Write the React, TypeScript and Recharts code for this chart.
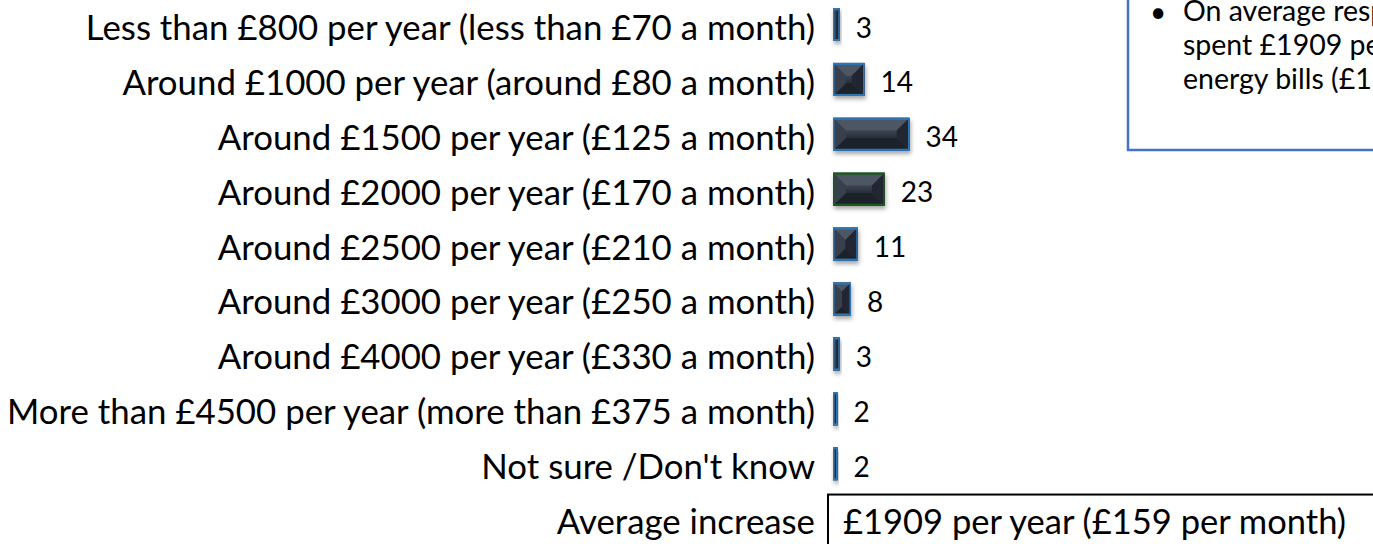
import React from 'react';
import { BarChart, Bar, XAxis, YAxis, LabelList } from 'recharts';

const categories = [
  'Less than £800 per year (less than £70 a month)',
  'Around £1000 per year (around £80 a month)',
  'Around £1500 per year (£125 a month)',
  'Around £2000 per year (£170 a month)',
  'Around £2500 per year (£210 a month)',
  'Around £3000 per year (£250 a month)',
  'Around £4000 per year (£330 a month)',
  'More than £4500 per year (more than £375 a month)',
  "Not sure /Don't know",
  'Average increase',
];
const values: (number | null)[] = [3, 14, 34, 23, 11, 8, 3, 2, 2, null];
const averageText = '£1909 per year (£159 per month)';
const noteLines = [
  'On average respondents',
  'spent £1909 per year on',
  'energy bills (£159 per month)',
];

const edgeColors = ['#2e75b6', '#2e75b6', '#2e75b6', '#1f5a1f', '#2e75b6', '#2e75b6', '#2e75b6', '#2e75b6', '#2e75b6'];

const data = categories.map((c, i) => ({ name: c, value: values[i] }));

const FONT = 'Lato, "Noto Sans", sans-serif';

const BevelBar = (props: any) => {
  const { x, y, width, height, index } = props;
  if (!width || width <= 0 || !height) return null;
  const b = Math.min(13, width / 2, height / 2);
  const x2 = x + width;
  const y2 = y + height;
  const edge = edgeColors[index] ?? '#2e75b6';
  return (
    <g filter="url(#barShadow)">
      <rect x={x} y={y} width={width} height={height} fill="#2b333e" />
      <polygon points={`${x},${y} ${x2},${y} ${x2 - b},${y + b} ${x + b},${y + b}`} fill="#4e5664" />
      <polygon points={`${x},${y2} ${x2},${y2} ${x2 - b},${y2 - b} ${x + b},${y2 - b}`} fill="#1e242c" />
      <polygon points={`${x},${y} ${x + b},${y + b} ${x + b},${y2 - b} ${x},${y2}`} fill="#39414d" />
      <polygon points={`${x2},${y} ${x2 - b},${y + b} ${x2 - b},${y2 - b} ${x2},${y2}`} fill="#222831" />
      {width - 2 * b > 0 && height - 2 * b > 0 && (
        <rect x={x + b} y={y + b} width={width - 2 * b} height={height - 2 * b} fill="url(#faceGrad)" />
      )}
      <rect x={x + 0.75} y={y + 0.75} width={Math.max(width - 1.5, 0.5)} height={height - 1.5} fill="none" stroke={edge} strokeWidth={1.5} />
      <line x1={x} y1={y + 1} x2={x2} y2={y + 1} stroke={edge} strokeWidth={2} />
      <line x1={x} y1={y2 - 1} x2={x2} y2={y2 - 1} stroke={edge} strokeWidth={2} />
    </g>
  );
};

const ValueLabel = (props: any) => {
  const { x, y, width, height, value } = props;
  if (value === null || value === undefined) return null;
  return (
    <text x={x + width + 16} y={y + height / 2 + 2} fontFamily={FONT} fontSize={28} fill="#000" dominantBaseline="central">
      {value}
    </text>
  );
};

const CategoryTick = (props: any) => {
  const { x, y, payload } = props;
  const isLast = payload.value === categories[categories.length - 1];
  return (
    <g>
      <text x={x} y={y + 2} textAnchor="end" dominantBaseline="central" fontFamily={FONT} fontSize={34.8} fill="#000">
        {payload.value}
      </text>
      {isLast && (
        <g>
          <rect x={x + 13} y={y - 24} width={600} height={100} fill="none" stroke="#000" strokeWidth={2} />
          <text x={x + 28} y={y + 2} dominantBaseline="central" fontFamily={FONT} fontSize={34.5} fill="#000">
            {averageText}
          </text>
        </g>
      )}
    </g>
  );
};

export default function App() {
  return (
    <div style={{ position: 'absolute', left: 0, top: 0, width: 1373, height: 544, overflow: 'hidden', background: '#fff' }}>
      <div style={{ position: 'absolute', left: 0, top: -3 }}>
        <BarChart
          width={1373}
          height={549}
          data={data}
          layout="vertical"
          margin={{ top: 0, right: 0, bottom: 0, left: 0 }}
        >
          <defs>
            <filter id="barShadow" x="-30%" y="-30%" width="160%" height="180%">
              <feDropShadow dx="1" dy="3" stdDeviation="2" floodColor="#000" floodOpacity="0.35" />
            </filter>
            <linearGradient id="faceGrad" x1="0" y1="0" x2="0" y2="1">
              <stop offset="0%" stopColor="#3c4452" />
              <stop offset="100%" stopColor="#282f39" />
            </linearGradient>
          </defs>
          <XAxis type="number" hide domain={[0, 240]} />
          <YAxis
            type="category"
            dataKey="name"
            width={833}
            axisLine={false}
            tickLine={false}
            tickMargin={12}
            interval={0}
            tick={<CategoryTick />}
          />
          <Bar dataKey="value" barSize={33} shape={<BevelBar />} isAnimationActive={false}>
            <LabelList dataKey="value" content={<ValueLabel />} />
          </Bar>
        </BarChart>
      </div>
      <svg style={{ position: 'absolute', left: 0, top: 0 }} width={1373} height={544}>
        <rect x={1128} y={-10} width={300} height={160} fill="#fff" stroke="#4472c4" strokeWidth={2.5} />
        <text x={1150} y={22} fontFamily={FONT} fontSize={28} fill="#000">•</text>
        {noteLines.map((t, i) => (
          <text key={i} x={1183} y={21 + i * 34} fontFamily={FONT} fontSize={28.5} fill="#000">
            {t}
          </text>
        ))}
      </svg>
    </div>
  );
}
